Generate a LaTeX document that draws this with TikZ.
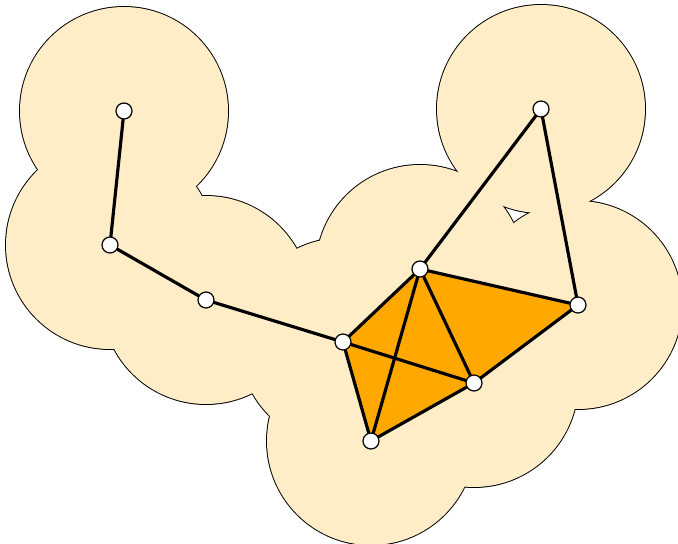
\documentclass[tikz,border=0pt]{standalone}
\usepackage{tikz}
\usetikzlibrary{backgrounds}
\definecolor{ballfill}{RGB}{255,237,200}
\definecolor{simplex}{RGB}{255,168,0}

\begin{document}
\begin{tikzpicture}[
      pt/.style={circle, draw, line width=0.7pt, fill=white, inner sep=0pt, minimum size=3.2mm},
      ball/.style={fill=ballfill},
      rim/.style={draw=black, line width=1.1pt},
      edge/.style={line width=1.8pt, line cap=round},
      face/.style={fill=simplex}]
    \useasboundingbox (0,0) rectangle (13.56,-10.88);
    \def\rad{2.08}
    \node[pt] (a) at (2.48,-2.22) {}; \node[pt] (b) at (2.20,-4.90) {};
    \node[pt] (c) at (4.12,-6.00) {}; \node[pt] (d) at (6.86,-6.84) {};
    \node[pt] (e) at (8.40,-5.38) {}; \node[pt] (f) at (10.82,-2.18) {};
    \node[pt] (g) at (11.56,-6.10) {}; \node[pt] (h) at (9.48,-7.66) {};
    \node[pt] (i) at (7.42,-8.82) {};
    \begin{scope}[on background layer]
      % union of balls: outlines first, then fill over the inner arcs
      \foreach \p in {a,b,c,d,e,f,g,h,i} \draw[rim] (\p.center) circle (\rad);
      \foreach \p in {a,b,c,d,e,f,g,h,i} \fill[ball] (\p.center) circle (\rad);
      \fill[face] (d.center) -- (e.center) -- (g.center) -- (h.center) -- (i.center) -- cycle;
      \draw[edge] (a) -- (b); \draw[edge] (b) -- (c); \draw[edge] (c) -- (d);
      \draw[edge] (e) -- (f); \draw[edge] (f) -- (g);
      \draw[edge] (d) -- (e); \draw[edge] (e) -- (g); \draw[edge] (g) -- (h);
      \draw[edge] (h) -- (i); \draw[edge] (i) -- (d); \draw[edge] (d) -- (h);
      \draw[edge] (e) -- (h); \draw[edge] (e) -- (i);
    \end{scope}
  \end{tikzpicture}
\end{document}
